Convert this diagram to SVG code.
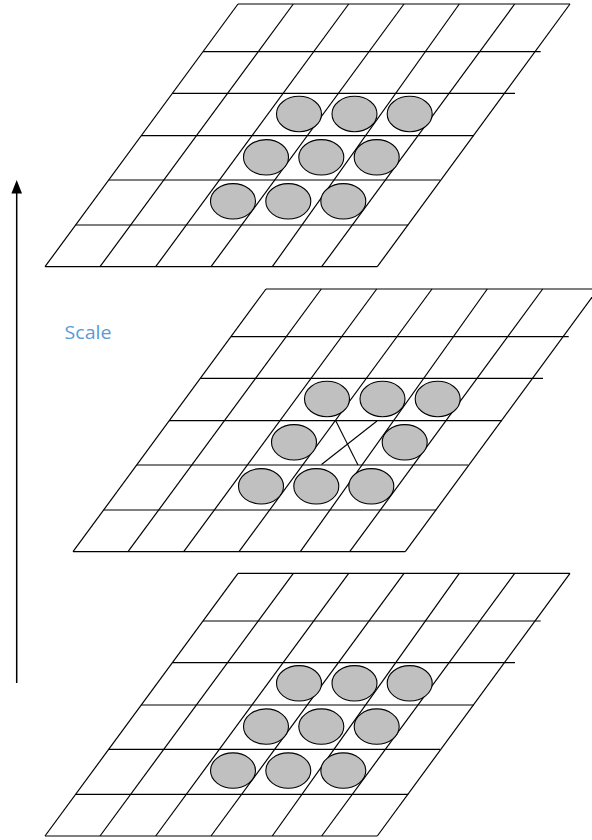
<svg xmlns="http://www.w3.org/2000/svg" xmlns:xlink="http://www.w3.org/1999/xlink" width="592" height="840" viewBox="0 0 592 840">
  <style>
    .grid line { stroke: #000; stroke-width: 1.2; }
    .dot { fill: #C0C0C0; stroke: #000; stroke-width: 1.1; }
    .lbl { font-family: "Open Sans", "DejaVu Sans", sans-serif; font-size: 18.5px; fill: #5B9BD5; }
    .conn { stroke: #000; stroke-width: 1.1; fill: none; }
  </style>
  <defs>
    <g id="gridTemplate" class="grid">
      <line x1="238" y1="4" x2="45" y2="266.7"/>
      <line x1="293.3" y1="4" x2="100" y2="266.7"/>
      <line x1="348.7" y1="4" x2="155.7" y2="266.7"/>
      <line x1="404" y1="4" x2="211" y2="266.7"/>
      <line x1="459.3" y1="4" x2="272.3" y2="266.7"/>
      <line x1="514.7" y1="4" x2="321.7" y2="266.7"/>
      <line x1="570" y1="4" x2="377.3" y2="266.7"/>
      <line x1="238" y1="4" x2="570" y2="4"/>
      <line x1="203" y1="51.7" x2="540.7" y2="51.7"/>
      <line x1="172.5" y1="93.3" x2="515" y2="93.3"/>
      <line x1="141.2" y1="135.7" x2="474" y2="135.7"/>
      <line x1="108.7" y1="180" x2="440" y2="180"/>
      <line x1="75.6" y1="225" x2="408.3" y2="225"/>
      <line x1="45" y1="266.7" x2="377.3" y2="266.7"/>
    </g>
  </defs>

  <g id="connectors">
    <line id="scale-arrow" x1="16.7" y1="683" x2="16.7" y2="192" stroke="#000" stroke-width="1.5"/>
    <path d="M16.7,180 L11.4,193.5 L22,193.5 Z" fill="#000"/>
    <line class="conn" x1="335.6" y1="420.5" x2="358" y2="465"/>
    <line class="conn" x1="377" y1="421" x2="321.5" y2="464.5"/>
  </g>

  <g id="layer-top">
    <use xlink:href="#gridTemplate" href="#gridTemplate"/>
    <g id="top-dots">
      <ellipse class="dot" cx="299" cy="114" rx="22.5" ry="17.7"/>
      <ellipse class="dot" cx="354.5" cy="114" rx="22.5" ry="17.7"/>
      <ellipse class="dot" cx="409.7" cy="114" rx="22.5" ry="17.7"/>
      <ellipse class="dot" cx="266" cy="157.3" rx="22.5" ry="17.7"/>
      <ellipse class="dot" cx="321.3" cy="157.3" rx="22.5" ry="17.7"/>
      <ellipse class="dot" cx="376.7" cy="157.3" rx="22.5" ry="17.7"/>
      <ellipse class="dot" cx="233" cy="201.3" rx="22.5" ry="17.7"/>
      <ellipse class="dot" cx="288.3" cy="201.3" rx="22.5" ry="17.7"/>
      <ellipse class="dot" cx="343.3" cy="201.3" rx="22.5" ry="17.7"/>
    </g>
  </g>

  <g id="layer-middle" transform="translate(28,285)">
    <use xlink:href="#gridTemplate" href="#gridTemplate"/>
    <g id="middle-dots">
      <ellipse class="dot" cx="299" cy="114" rx="22.5" ry="17.7"/>
      <ellipse class="dot" cx="354.5" cy="114" rx="22.5" ry="17.7"/>
      <ellipse class="dot" cx="409.7" cy="114" rx="22.5" ry="17.7"/>
      <ellipse class="dot" cx="266" cy="157.3" rx="22.5" ry="17.7"/>
      <ellipse class="dot" cx="376.7" cy="157.3" rx="22.5" ry="17.7"/>
      <ellipse class="dot" cx="233" cy="201.3" rx="22.5" ry="17.7"/>
      <ellipse class="dot" cx="288.3" cy="201.3" rx="22.5" ry="17.7"/>
      <ellipse class="dot" cx="343.3" cy="201.3" rx="22.5" ry="17.7"/>
    </g>
  </g>

  <g id="layer-bottom" transform="translate(0,569.3)">
    <use xlink:href="#gridTemplate" href="#gridTemplate"/>
    <g id="bottom-dots">
      <ellipse class="dot" cx="299" cy="114" rx="22.5" ry="17.7"/>
      <ellipse class="dot" cx="354.5" cy="114" rx="22.5" ry="17.7"/>
      <ellipse class="dot" cx="409.7" cy="114" rx="22.5" ry="17.7"/>
      <ellipse class="dot" cx="266" cy="157.3" rx="22.5" ry="17.7"/>
      <ellipse class="dot" cx="321.3" cy="157.3" rx="22.5" ry="17.7"/>
      <ellipse class="dot" cx="376.7" cy="157.3" rx="22.5" ry="17.7"/>
      <ellipse class="dot" cx="233" cy="201.3" rx="22.5" ry="17.7"/>
      <ellipse class="dot" cx="288.3" cy="201.3" rx="22.5" ry="17.7"/>
      <ellipse class="dot" cx="343.3" cy="201.3" rx="22.5" ry="17.7"/>
    </g>
  </g>

  <g id="scale-label">
    <text class="lbl" x="64.5" y="338.5" textLength="47" lengthAdjust="spacingAndGlyphs">Scale</text>
  </g>
</svg>
